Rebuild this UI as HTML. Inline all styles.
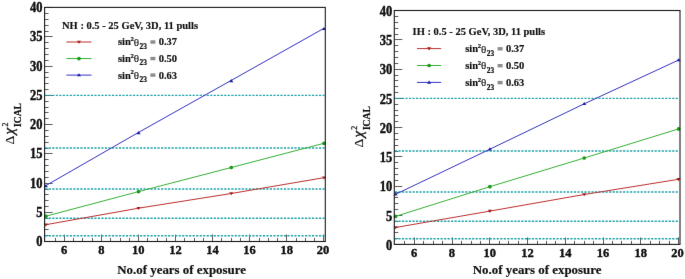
<!DOCTYPE html>
<html><head><meta charset="utf-8"><style>
html,body{margin:0;padding:0;background:#fff;}
body{width:685px;height:279px;overflow:hidden;}
svg{display:block;will-change:transform;}
text{font-family:"Liberation Serif",serif;fill:#111;}
.tl text{font-size:12.5px;font-weight:bold;stroke:#000;stroke-width:0.35px;}
.xt{font-size:12.9px;font-weight:bold;stroke:#000;stroke-width:0.15px;}
.lh,.le{font-size:10.5px;font-weight:bold;stroke:#000;stroke-width:0.15px;}
.lsup{font-size:6.6px;font-weight:bold;stroke:#000;stroke-width:0.2px;}
.lsub{font-size:7.4px;font-weight:bold;stroke:#000;stroke-width:0.2px;}
.lth{font-size:11px;stroke:#111;stroke-width:0.15px;}
.ytd{font-size:13.5px;stroke:#111;stroke-width:0.15px;}
.ytc{font-size:15px;font-style:italic;stroke:#111;stroke-width:0.4px;}
.yts{font-size:8px;stroke:#111;stroke-width:0.25px;}
.ytb{font-size:9.6px;font-weight:bold;stroke:#111;stroke-width:0.2px;}
</style></head><body>
<svg width="685" height="279" viewBox="0 0 685 279">
<defs><filter id="bl" x="0" y="0" width="685" height="279" filterUnits="userSpaceOnUse" color-interpolation-filters="sRGB"><feConvolveMatrix order="3" kernelMatrix="0.0028 0.0470 0.0028 0.0470 0.8008 0.0470 0.0028 0.0470 0.0028" edgeMode="duplicate"/></filter></defs>
<g filter="url(#bl)">
<rect width="685" height="279" fill="#fff"/>
<path d="M44.6 241.5h8M44.6 235.5h4M44.6 229.5h4M44.6 224.5h4M44.6 218.5h4M44.6 212.5h8M44.6 206.5h4M44.6 200.5h4M44.6 194.5h4M44.6 189.5h4M44.6 183.5h8M44.6 177.5h4M44.6 171.5h4M44.6 165.5h4M44.6 159.5h4M44.6 153.5h8M44.6 148.5h4M44.6 142.5h4M44.6 136.5h4M44.6 130.5h4M44.6 124.5h8M44.6 118.5h4M44.6 112.5h4M44.6 107.5h4M44.6 101.5h4M44.6 95.5h8M44.6 89.5h4M44.6 83.5h4M44.6 77.5h4M44.6 72.5h4M44.6 66.5h8M44.6 60.5h4M44.6 54.5h4M44.6 48.5h4M44.6 42.5h4M44.6 36.5h8M44.6 31.5h4M44.6 25.5h4M44.6 19.5h4M44.6 13.5h4M44.6 7.5h8M55.5 241.5v-3.5M64.5 241.5v-7M73.5 241.5v-3.5M82.5 241.5v-3.5M92.5 241.5v-3.5M101.5 241.5v-7M110.5 241.5v-3.5M120.5 241.5v-3.5M129.5 241.5v-3.5M138.5 241.5v-7M147.5 241.5v-3.5M157.5 241.5v-3.5M166.5 241.5v-3.5M175.5 241.5v-7M184.5 241.5v-3.5M194.5 241.5v-3.5M203.5 241.5v-3.5M212.5 241.5v-7M221.5 241.5v-3.5M231.5 241.5v-3.5M240.5 241.5v-3.5M249.5 241.5v-7M259.5 241.5v-3.5M268.5 241.5v-3.5M277.5 241.5v-3.5M286.5 241.5v-7M296.5 241.5v-3.5M305.5 241.5v-3.5M314.5 241.5v-3.5M323.5 241.5v-7" stroke="#4a4a4a" stroke-width="0.9" fill="none"/>
<line x1="45.2" y1="235.8" x2="324.5" y2="235.8" stroke="#1fa3a8" stroke-width="1.4" stroke-dasharray="2.2 1.31"/>
<line x1="45.2" y1="218.25" x2="324.5" y2="218.25" stroke="#1fa3a8" stroke-width="1.4" stroke-dasharray="2.2 1.31"/>
<line x1="45.2" y1="189" x2="324.5" y2="189" stroke="#1fa3a8" stroke-width="1.4" stroke-dasharray="2.2 1.31"/>
<line x1="45.2" y1="148.05" x2="324.5" y2="148.05" stroke="#1fa3a8" stroke-width="1.4" stroke-dasharray="2.2 1.31"/>
<line x1="45.2" y1="95.4" x2="324.5" y2="95.4" stroke="#1fa3a8" stroke-width="1.4" stroke-dasharray="2.2 1.31"/>
<polyline points="45.86,224.7 138.56,208.2 231.26,193.5 323.96,177.7" fill="none" stroke="#bb3030" stroke-width="1.0"/>
<polygon points="43.78,223.45 47.94,223.45 45.86,226.57" fill="#a81c1c"/>
<polygon points="136.48,206.95 140.64,206.95 138.56,210.07" fill="#a81c1c"/>
<polygon points="229.18,192.25 233.34,192.25 231.26,195.37" fill="#a81c1c"/>
<polygon points="321.88,176.45 326.04,176.45 323.96,179.57" fill="#a81c1c"/>
<polyline points="45.86,216.2 138.56,191.6 231.26,167.5 323.96,143.3" fill="none" stroke="#38b038" stroke-width="1.0"/>
<circle cx="45.86" cy="216.2" r="1.84" fill="#1a9a1a"/>
<circle cx="138.56" cy="191.6" r="1.84" fill="#1a9a1a"/>
<circle cx="231.26" cy="167.5" r="1.84" fill="#1a9a1a"/>
<circle cx="323.96" cy="143.3" r="1.84" fill="#1a9a1a"/>
<polyline points="45.86,185.6 138.56,132.4 231.26,80.4 323.96,28.3" fill="none" stroke="#3434c0" stroke-width="1.0"/>
<polygon points="43.78,187.35 47.94,187.35 45.86,184.23" fill="#1c1ca8"/>
<polygon points="136.48,134.15 140.64,134.15 138.56,131.03" fill="#1c1ca8"/>
<polygon points="229.18,82.15 233.34,82.15 231.26,79.03" fill="#1c1ca8"/>
<polygon points="321.88,30.05 326.04,30.05 323.96,26.93" fill="#1c1ca8"/>
<rect x="44.6" y="7.4" width="280.7" height="234.1" fill="none" stroke="#1a1a1a" stroke-width="1.1"/>
<g class="tl"><text transform="translate(42.6 246.15) scale(1 1.1)" text-anchor="end">0</text><text transform="translate(42.6 216.9) scale(1 1.1)" text-anchor="end">5</text><text transform="translate(42.6 187.65) scale(1 1.1)" text-anchor="end">10</text><text transform="translate(42.6 158.4) scale(1 1.1)" text-anchor="end">15</text><text transform="translate(42.6 129.15) scale(1 1.1)" text-anchor="end">20</text><text transform="translate(42.6 99.9) scale(1 1.1)" text-anchor="end">25</text><text transform="translate(42.6 70.65) scale(1 1.1)" text-anchor="end">30</text><text transform="translate(42.6 41.4) scale(1 1.1)" text-anchor="end">35</text><text transform="translate(42.6 12.15) scale(1 1.1)" text-anchor="end">40</text><text transform="translate(64.2 253.9) scale(1 1.04)" text-anchor="middle">6</text><text transform="translate(101.28 253.9) scale(1 1.04)" text-anchor="middle">8</text><text transform="translate(138.36 253.9) scale(1 1.04)" text-anchor="middle">10</text><text transform="translate(175.44 253.9) scale(1 1.04)" text-anchor="middle">12</text><text transform="translate(212.52 253.9) scale(1 1.04)" text-anchor="middle">14</text><text transform="translate(249.6 253.9) scale(1 1.04)" text-anchor="middle">16</text><text transform="translate(286.68 253.9) scale(1 1.04)" text-anchor="middle">18</text><text transform="translate(322.96 253.9) scale(1 1.04)" text-anchor="middle">20</text></g>
<text class="xt" x="117.3" y="273.5">No.of years of exposure</text>
<g transform="translate(13.4 143.4) rotate(-90)"><text class="ytd" x="-1.0" y="1.0">&#916;</text><text class="ytc" x="9.0" y="0.6">&#967;</text><text class="yts" x="16.8" y="-5.2">2</text><text class="ytb" x="16.4" y="7.7">ICAL</text></g>
<text class="lh" x="62" y="28.9">NH : 0.5 - 25 GeV, 3D, 11 pulls</text><line x1="66.4" y1="42" x2="91.5" y2="42" stroke="#bb3030" stroke-width="1.0"/><polygon points="76.87,40.75 81.03,40.75 78.95,43.87" fill="#a81c1c"/><text class="le" x="118" y="45.4">sin</text><text class="lsup" x="130.5" y="41.1">2</text><text class="lth" x="133.7" y="45.7">&#952;</text><text class="lsub" x="139.5" y="48.9">23</text><rect x="150.4" y="40.3" width="5" height="3.4" fill="#8c8c8c"/><text class="le" x="158.7" y="45.4">0.37</text><line x1="66.4" y1="58.55" x2="91.5" y2="58.55" stroke="#38b038" stroke-width="1.0"/><circle cx="78.95" cy="58.55" r="1.84" fill="#1a9a1a"/><text class="le" x="118" y="61.95">sin</text><text class="lsup" x="130.5" y="57.65">2</text><text class="lth" x="133.7" y="62.25">&#952;</text><text class="lsub" x="139.5" y="65.45">23</text><rect x="150.4" y="56.85" width="5" height="3.4" fill="#8c8c8c"/><text class="le" x="158.7" y="61.95">0.50</text><line x1="66.4" y1="75.1" x2="91.5" y2="75.1" stroke="#3434c0" stroke-width="1.0"/><polygon points="76.87,76.35 81.03,76.35 78.95,73.23" fill="#1c1ca8"/><text class="le" x="118" y="78.5">sin</text><text class="lsup" x="130.5" y="74.2">2</text><text class="lth" x="133.7" y="78.8">&#952;</text><text class="lsub" x="139.5" y="82">23</text><rect x="150.4" y="73.4" width="5" height="3.4" fill="#8c8c8c"/><text class="le" x="158.7" y="78.5">0.63</text>
<path d="M394.3 244.5h8M394.3 238.5h4M394.3 232.5h4M394.3 227.5h4M394.3 221.5h4M394.3 215.5h8M394.3 209.5h4M394.3 203.5h4M394.3 197.5h4M394.3 192.5h4M394.3 186.5h8M394.3 180.5h4M394.3 174.5h4M394.3 168.5h4M394.3 162.5h4M394.3 156.5h8M394.3 151.5h4M394.3 145.5h4M394.3 139.5h4M394.3 133.5h4M394.3 127.5h8M394.3 121.5h4M394.3 115.5h4M394.3 110.5h4M394.3 104.5h4M394.3 98.5h8M394.3 92.5h4M394.3 86.5h4M394.3 80.5h4M394.3 75.5h4M394.3 69.5h8M394.3 63.5h4M394.3 57.5h4M394.3 51.5h4M394.3 45.5h4M394.3 39.5h8M394.3 34.5h4M394.3 28.5h4M394.3 22.5h4M394.3 16.5h4M394.3 10.5h8M404.5 244.4v-3.5M414.5 244.4v-7M423.5 244.4v-3.5M433.5 244.4v-3.5M442.5 244.4v-3.5M452.5 244.4v-7M461.5 244.4v-3.5M471.5 244.4v-3.5M480.5 244.4v-3.5M489.5 244.4v-7M499.5 244.4v-3.5M508.5 244.4v-3.5M518.5 244.4v-3.5M527.5 244.4v-7M537.5 244.4v-3.5M546.5 244.4v-3.5M555.5 244.4v-3.5M565.5 244.4v-7M574.5 244.4v-3.5M584.5 244.4v-3.5M593.5 244.4v-3.5M603.5 244.4v-7M612.5 244.4v-3.5M621.5 244.4v-3.5M631.5 244.4v-3.5M640.5 244.4v-7M650.5 244.4v-3.5M659.5 244.4v-3.5M669.5 244.4v-3.5M678.5 244.4v-7" stroke="#4a4a4a" stroke-width="0.9" fill="none"/>
<line x1="394.9" y1="238.8" x2="679.2" y2="238.8" stroke="#1fa3a8" stroke-width="1.4" stroke-dasharray="2.2 1.31"/>
<line x1="394.9" y1="221.25" x2="679.2" y2="221.25" stroke="#1fa3a8" stroke-width="1.4" stroke-dasharray="2.2 1.31"/>
<line x1="394.9" y1="192" x2="679.2" y2="192" stroke="#1fa3a8" stroke-width="1.4" stroke-dasharray="2.2 1.31"/>
<line x1="394.9" y1="151.05" x2="679.2" y2="151.05" stroke="#1fa3a8" stroke-width="1.4" stroke-dasharray="2.2 1.31"/>
<line x1="394.9" y1="98.4" x2="679.2" y2="98.4" stroke="#1fa3a8" stroke-width="1.4" stroke-dasharray="2.2 1.31"/>
<polyline points="395.53,227.5 489.88,211.1 584.23,194.5 678.58,179.3" fill="none" stroke="#bb3030" stroke-width="1.0"/>
<polygon points="393.45,226.25 397.61,226.25 395.53,229.37" fill="#a81c1c"/>
<polygon points="487.8,209.85 491.96,209.85 489.88,212.97" fill="#a81c1c"/>
<polygon points="582.15,193.25 586.31,193.25 584.23,196.37" fill="#a81c1c"/>
<polygon points="676.5,178.05 680.66,178.05 678.58,181.17" fill="#a81c1c"/>
<polyline points="395.53,216.4 489.88,186.7 584.23,158 678.58,128.9" fill="none" stroke="#38b038" stroke-width="1.0"/>
<circle cx="395.53" cy="216.4" r="1.84" fill="#1a9a1a"/>
<circle cx="489.88" cy="186.7" r="1.84" fill="#1a9a1a"/>
<circle cx="584.23" cy="158" r="1.84" fill="#1a9a1a"/>
<circle cx="678.58" cy="128.9" r="1.84" fill="#1a9a1a"/>
<polyline points="395.53,194.3 489.88,149.2 584.23,103.8 678.58,60.05" fill="none" stroke="#3434c0" stroke-width="1.0"/>
<polygon points="393.45,195.55 397.61,195.55 395.53,192.43" fill="#1c1ca8"/>
<polygon points="487.8,150.45 491.96,150.45 489.88,147.33" fill="#1c1ca8"/>
<polygon points="582.15,105.05 586.31,105.05 584.23,101.93" fill="#1c1ca8"/>
<polygon points="676.5,61.3 680.66,61.3 678.58,58.18" fill="#1c1ca8"/>
<rect x="394.3" y="10.5" width="285.7" height="233.9" fill="none" stroke="#1a1a1a" stroke-width="1.1"/>
<g class="tl"><text transform="translate(392.3 249.95) scale(1 1.1)" text-anchor="end">0</text><text transform="translate(392.3 220.7) scale(1 1.1)" text-anchor="end">5</text><text transform="translate(392.3 191.45) scale(1 1.1)" text-anchor="end">10</text><text transform="translate(392.3 162.2) scale(1 1.1)" text-anchor="end">15</text><text transform="translate(392.3 132.95) scale(1 1.1)" text-anchor="end">20</text><text transform="translate(392.3 103.7) scale(1 1.1)" text-anchor="end">25</text><text transform="translate(392.3 74.45) scale(1 1.1)" text-anchor="end">30</text><text transform="translate(392.3 45.2) scale(1 1.1)" text-anchor="end">35</text><text transform="translate(392.3 15.95) scale(1 1.1)" text-anchor="end">40</text><text transform="translate(414.2 256.8) scale(1 1.04)" text-anchor="middle">6</text><text transform="translate(451.94 256.8) scale(1 1.04)" text-anchor="middle">8</text><text transform="translate(489.68 256.8) scale(1 1.04)" text-anchor="middle">10</text><text transform="translate(527.42 256.8) scale(1 1.04)" text-anchor="middle">12</text><text transform="translate(565.16 256.8) scale(1 1.04)" text-anchor="middle">14</text><text transform="translate(602.9 256.8) scale(1 1.04)" text-anchor="middle">16</text><text transform="translate(640.64 256.8) scale(1 1.04)" text-anchor="middle">18</text><text transform="translate(677.58 256.8) scale(1 1.04)" text-anchor="middle">20</text></g>
<text class="xt" x="472.8" y="274">No.of years of exposure</text>
<g transform="translate(362.4 146.5) rotate(-90)"><text class="ytd" x="-1.0" y="1.0">&#916;</text><text class="ytc" x="9.0" y="0.6">&#967;</text><text class="yts" x="16.8" y="-5.2">2</text><text class="ytb" x="16.4" y="7.7">ICAL</text></g>
<text class="lh" x="412.6" y="35">IH : 0.5 - 25 GeV, 3D, 11 pulls</text><line x1="417" y1="48.6" x2="441.2" y2="48.6" stroke="#bb3030" stroke-width="1.0"/><polygon points="427.02,47.35 431.18,47.35 429.1,50.47" fill="#a81c1c"/><text class="le" x="465.2" y="52.2">sin</text><text class="lsup" x="477.7" y="47.9">2</text><text class="lth" x="480.9" y="52.5">&#952;</text><text class="lsub" x="486.7" y="55.7">23</text><rect x="497.6" y="47.1" width="5" height="3.4" fill="#8c8c8c"/><text class="le" x="505.9" y="52.2">0.37</text><line x1="417" y1="65.5" x2="441.2" y2="65.5" stroke="#38b038" stroke-width="1.0"/><circle cx="429.1" cy="65.5" r="1.84" fill="#1a9a1a"/><text class="le" x="465.2" y="69.1">sin</text><text class="lsup" x="477.7" y="64.8">2</text><text class="lth" x="480.9" y="69.4">&#952;</text><text class="lsub" x="486.7" y="72.6">23</text><rect x="497.6" y="64" width="5" height="3.4" fill="#8c8c8c"/><text class="le" x="505.9" y="69.1">0.50</text><line x1="417" y1="82.4" x2="441.2" y2="82.4" stroke="#3434c0" stroke-width="1.0"/><polygon points="427.02,83.65 431.18,83.65 429.1,80.53" fill="#1c1ca8"/><text class="le" x="465.2" y="86">sin</text><text class="lsup" x="477.7" y="81.7">2</text><text class="lth" x="480.9" y="86.3">&#952;</text><text class="lsub" x="486.7" y="89.5">23</text><rect x="497.6" y="80.9" width="5" height="3.4" fill="#8c8c8c"/><text class="le" x="505.9" y="86">0.63</text>
</g>
</svg>
</body></html>
